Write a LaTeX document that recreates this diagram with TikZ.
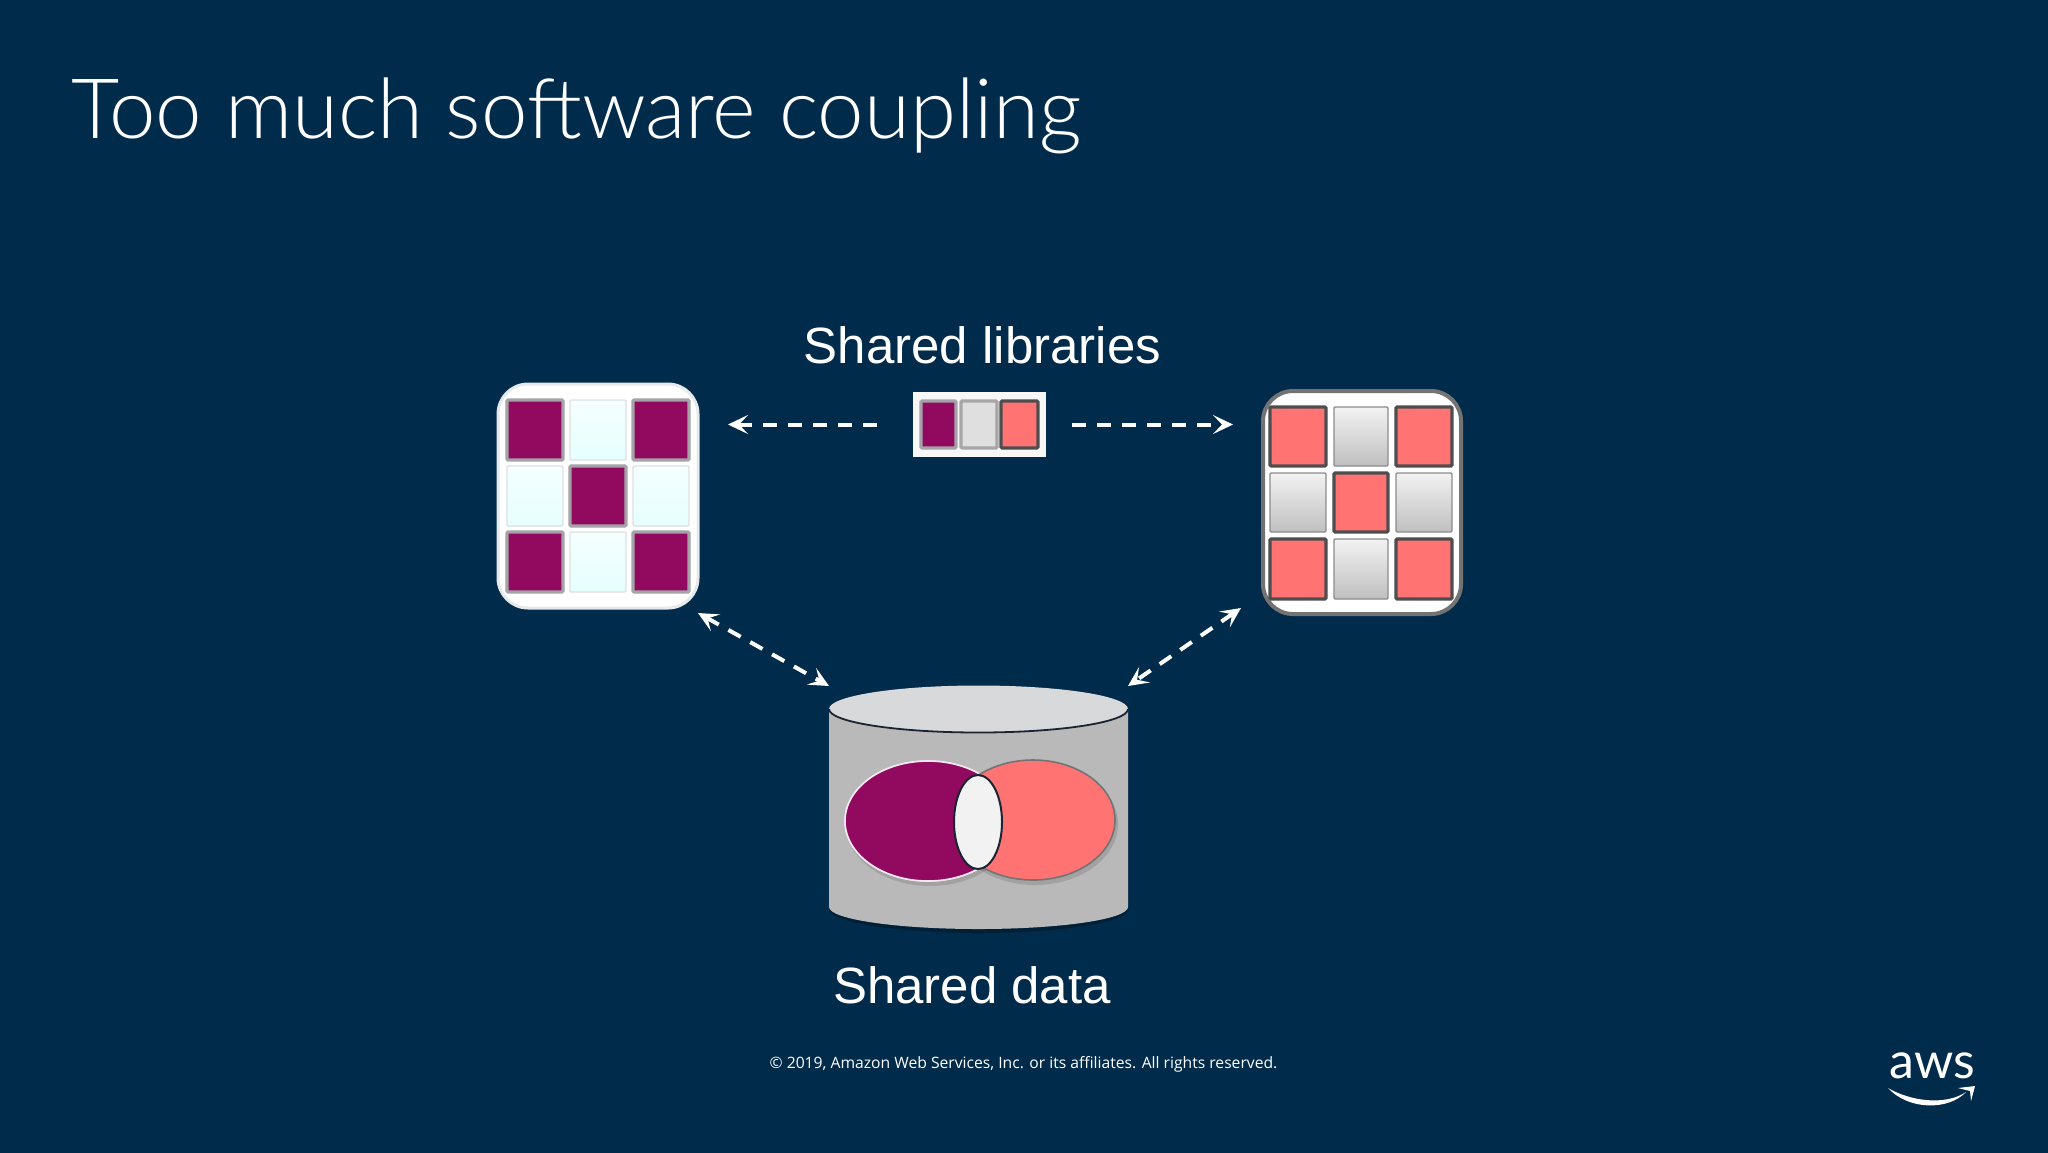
\documentclass[tikz,border=0pt]{standalone}
\usepackage{fontspec}
\usetikzlibrary{arrows.meta,calc,shapes.geometric}
\setmainfont{Liberation Sans}
\newfontfamily\titlefont{Lato Light}
\newfontfamily\logofont{Lato}
\newfontfamily\footfont{Open Sans}
\definecolor{bgnavy}{HTML}{012B4B}
\definecolor{plum}{HTML}{910A5F}
\definecolor{coral}{HTML}{FF7373}
\definecolor{inkline}{HTML}{1A2433}
\definecolor{plumedge}{HTML}{A3A3A8}
\definecolor{coraledge}{HTML}{4D4D4F}
\definecolor{drumbody}{HTML}{B9B9BA}
\definecolor{drumtop}{HTML}{D8D9DA}
\newcommand{\cellbox}[6]{%
  \pgfmathsetlengthmacro{\cw}{(#5-#3-2)*0.5pt}%
  \pgfmathsetlengthmacro{\ch}{(#6-#4-2)*0.5pt}%
  \node[#2,minimum width=\cw,minimum height=\ch] (#1) at ({(#3+#5)/2},{(#4+#6)/2}) {};}
\tikzset{
  x=0.5pt,y=-0.5pt,
  plate/.style={draw,rounded corners=15pt,inner sep=0pt,outer sep=0pt,fill=white},
  tile/.style={draw,inner sep=0pt,outer sep=0pt,rounded corners=0.6pt},
  plumcell/.style={tile,fill=plum,draw=plumedge,line width=1.6pt},
  icecell/.style={tile,top color=white!80!cyan!20,bottom color=cyan!10!white,draw=gray!25,line width=0.7pt},
  coralcell/.style={tile,fill=coral,draw=coraledge,line width=1.6pt},
  greycell/.style={tile,top color=gray!10,bottom color=gray!50,draw=gray!90,line width=0.7pt},
  link/.style={draw=white,line width=2pt,dash pattern=on 7pt off 5.5pt},
  tiplink/.tip={Stealth[length=10pt,width=9.5pt,inset=4.5pt]},
  bigtext/.style={font=\fontsize{25.5pt}{30pt}\selectfont,text=white,inner sep=0pt,anchor=base},
  anchorbox/.style={inner sep=0pt,outer sep=0pt}
}
\begin{document}
\begin{tikzpicture}
\useasboundingbox (0,0) rectangle (2048,1152);
\fill[bgnavy] (-10,-10) rectangle (2058,1162);

\node[font=\titlefont\fontsize{41.7pt}{50pt}\selectfont,text=white,inner sep=0pt,anchor=base west] (title) at (71,138) {Too much software coupling};

% left application
\cellbox{appL}{plate,draw=cyan!10!gray!20,line width=1.5pt}{497}{383}{699}{609}
\cellbox{l11}{plumcell}{506}{399}{564}{461}
\cellbox{l12}{icecell}{569}{399}{627}{461}
\cellbox{l13}{plumcell}{632}{399}{690}{461}
\cellbox{l21}{icecell}{506}{465}{564}{527}
\cellbox{l22}{plumcell}{569}{465}{627}{527}
\cellbox{l23}{icecell}{632}{465}{690}{527}
\cellbox{l31}{plumcell}{506}{531}{564}{593}
\cellbox{l32}{icecell}{569}{531}{627}{593}
\cellbox{l33}{plumcell}{632}{531}{690}{593}

% right application
\cellbox{appR}{plate,draw=gray!90!black,line width=2pt}{1262}{390}{1462}{615}
\cellbox{r11}{coralcell}{1269}{406}{1327}{467}
\cellbox{r12}{greycell}{1333}{406}{1389}{467}
\cellbox{r13}{coralcell}{1395}{406}{1453}{467}
\cellbox{r21}{greycell}{1269}{472}{1327}{533}
\cellbox{r22}{coralcell}{1333}{472}{1389}{533}
\cellbox{r23}{greycell}{1395}{472}{1453}{533}
\cellbox{r31}{coralcell}{1269}{538}{1327}{600}
\cellbox{r32}{greycell}{1333}{538}{1389}{600}
\cellbox{r33}{coralcell}{1395}{538}{1453}{600}

% shared library
\cellbox{lib}{fill=white!94!gray,inner sep=0pt,outer sep=0pt}{912}{391}{1047}{458}
\cellbox{s1}{plumcell}{920}{400}{957}{449}
\cellbox{s2}{tile,fill=gray!25,draw=gray!70,line width=1.6pt}{960}{400}{998}{449}
\cellbox{s3}{coralcell}{1000}{400}{1039}{449}

\node[bigtext] (libtext) at (982.5,363) {Shared libraries};

% database
\node[anchorbox,minimum width=149.5pt,minimum height=121.5pt] (db) at (978.5,807.5) {};
\fill[black,opacity=.25] (829,912) -- (829,909) arc[start angle=180,end angle=360,x radius=149.5,y radius=-24] -- (1128,912) arc[start angle=0,end angle=180,x radius=149.5,y radius=-22] -- cycle;
\fill[drumbody] (829,709) -- (829,907) arc[start angle=180,end angle=360,x radius=149.5,y radius=-22] -- (1128,709) -- cycle;
\fill[drumtop] (978.5,709) ellipse[x radius=149.5,y radius=23.5];
\draw[inkline,line width=.9pt] (829,709) arc[start angle=180,end angle=360,x radius=149.5,y radius=-23.5];

% overlap of records
\fill[black,opacity=.12] (930,825) ellipse[x radius=84,y radius=61];
\fill[black,opacity=.12] (1035,824) ellipse[x radius=83,y radius=61];
\draw[white!90!plum,line width=.8pt,fill=plum] (928,821) ellipse[x radius=83,y radius=60];
\draw[gray!90!black,line width=.8pt,fill=coral] (1033,820) ellipse[x radius=82,y radius=60];
\begin{scope}
\clip (840,750) rectangle (978,890);
\draw[white!90!plum,line width=.8pt,fill=plum] (928,821) ellipse[x radius=83,y radius=60];
\end{scope}
\node[draw=inkline,line width=1pt,fill=gray!10,ellipse,minimum width=24pt,minimum height=47pt,inner sep=0pt,outer sep=0pt] (both) at (978,822) {};

\node[bigtext] (dbtext) at (972,1003) {Shared data};

% connectors
\draw[link,-{tiplink},shorten <=18pt,shorten >=15pt] (lib.west) -- (lib.west -| appL.east);
\draw[link,-{tiplink},shorten <=13pt,shorten >=15pt] (lib.east) -- (lib.east -| appR.west);
\coordinate (portL) at (698,613);
\coordinate (portR) at (1241,608);
\draw[link,{tiplink}-{tiplink}] (portL) -- (db.north west);
\draw[link,{tiplink}-{tiplink}] (portR) -- (db.north east);

% footer
\node[font=\footfont\fontsize{7.84pt}{10pt}\selectfont,text=white,inner sep=0pt,anchor=base] (foot) at (1023.5,1068) {© 2019, Amazon Web Services, Inc. or its affiliates. All rights reserved.};

% aws logo
\node[font=\logofont\fontsize{25pt}{30pt}\selectfont,text=white,inner sep=0pt,anchor=base] (aws) at (1932,1078) {aws};
\fill[white] (1888,1088) .. controls (1910,1101) and (1945,1106) .. (1966,1092) .. controls (1948,1111) and (1908,1110) .. (1888,1088) -- cycle;
\fill[white] (1958,1088) -- (1975,1086) -- (1971,1101) -- (1970,1091) -- cycle;
\end{tikzpicture}
\end{document}
